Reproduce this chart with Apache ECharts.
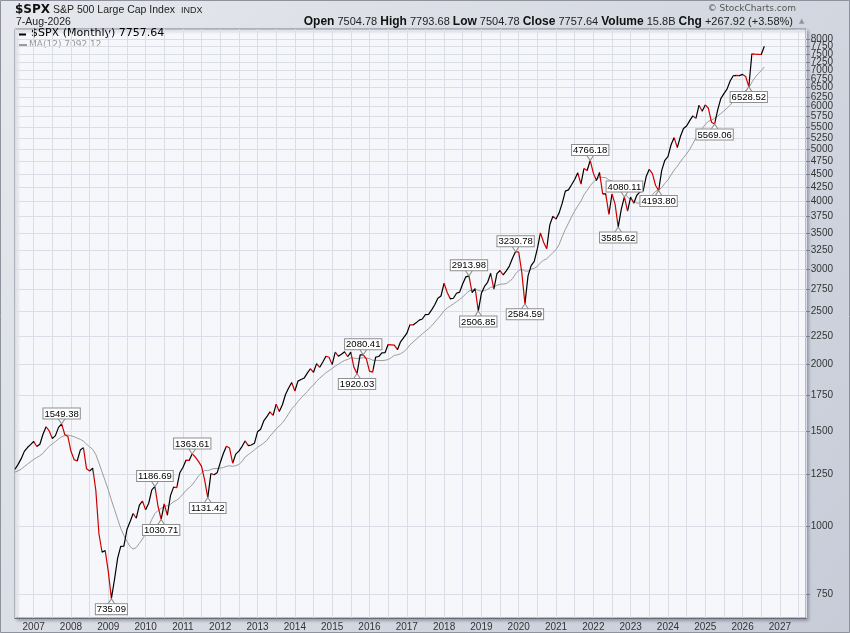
<!DOCTYPE html>
<html>
<head>
<meta charset="utf-8">
<title>$SPX Monthly</title>
<script src="https://cdn.jsdelivr.net/npm/echarts@6/dist/echarts.min.js"></script>
<style>
  html, body { margin: 0; padding: 0; }
  #main { width: 850px; height: 633px; }
</style>
</head>
<body>
<div id="main"></div>
<script>
// monthly closes of $SPX, first value is Jul 2006, last is Aug 2026
const firstMonth = [2006, 7];
const closes = [
  1276.66, 1303.82, 1335.85, 1377.94, 1400.63, 1418.30,
  1438.24, 1406.82, 1420.86, 1482.37, 1530.62, 1503.35, 1455.27, 1473.99, 1526.75, 1549.38, 1481.14, 1468.36,
  1378.55, 1330.63, 1322.70, 1385.59, 1400.38, 1280.00, 1267.38, 1282.83, 1166.36, 968.75, 896.24, 903.25,
  825.88, 735.09, 797.87, 872.81, 919.14, 919.32, 987.48, 1020.62, 1057.08, 1036.19, 1095.63, 1115.10,
  1073.87, 1104.49, 1169.43, 1186.69, 1089.41, 1030.71, 1101.60, 1049.33, 1141.20, 1183.26, 1180.55, 1257.64,
  1286.12, 1327.22, 1325.83, 1363.61, 1345.20, 1320.64, 1292.28, 1218.89, 1131.42, 1253.30, 1246.96, 1257.60,
  1312.41, 1365.68, 1408.47, 1397.91, 1310.33, 1362.16, 1379.32, 1406.58, 1440.67, 1412.16, 1416.18, 1426.19,
  1498.11, 1514.68, 1569.19, 1597.57, 1630.74, 1606.28, 1685.73, 1632.97, 1681.55, 1756.54, 1805.81, 1848.36,
  1782.59, 1859.45, 1872.34, 1883.95, 1923.57, 1960.23, 1930.67, 2003.37, 1972.29, 2018.05, 2067.56, 2058.90,
  1994.99, 2104.50, 2067.89, 2085.51, 2107.39, 2063.11, 2103.84, 1972.18, 1920.03, 2079.36, 2080.41, 2043.94,
  1940.24, 1932.23, 2059.74, 2065.30, 2096.95, 2098.86, 2173.60, 2170.95, 2168.27, 2126.15, 2198.81, 2238.83,
  2278.87, 2363.64, 2362.72, 2384.20, 2411.80, 2423.41, 2470.30, 2471.65, 2519.36, 2575.26, 2647.58, 2673.61,
  2823.81, 2713.83, 2640.87, 2648.05, 2705.27, 2718.37, 2816.29, 2901.52, 2913.98, 2711.74, 2760.17, 2506.85,
  2704.10, 2784.49, 2834.40, 2945.83, 2752.06, 2941.76, 2980.38, 2926.46, 2976.74, 3037.56, 3140.98, 3230.78,
  3225.52, 2954.22, 2584.59, 2912.43, 3044.31, 3100.29, 3271.12, 3500.31, 3363.00, 3269.96, 3621.63, 3756.07,
  3714.24, 3811.15, 3972.89, 4181.17, 4204.11, 4297.50, 4395.26, 4522.68, 4307.54, 4605.38, 4567.00, 4766.18,
  4515.55, 4373.94, 4530.41, 4131.93, 4132.15, 3785.38, 4130.29, 3955.00, 3585.62, 3871.98, 4080.11, 3839.50,
  4076.60, 3970.15, 4109.31, 4169.48, 4179.83, 4450.38, 4588.96, 4507.66, 4288.05, 4193.80, 4567.80, 4769.83,
  4845.65, 5096.27, 5254.35, 5035.69, 5277.51, 5460.48, 5522.30, 5648.40, 5762.48, 5705.45, 6032.38, 5881.63,
  6040.53, 5954.50, 5611.85, 5569.06, 5911.69, 6204.95, 6339.39, 6460.26, 6688.46, 6840.20, 6849.09, 6845.50,
  6880, 6820, 6528.52, 7510, 7500, 7495, 7489.72, 7757.64
];
// 12 month moving average, same months as closes
const ma12 = [
  1261.4, 1268.4, 1277.3, 1291.6, 1304.3, 1318.4,
  1331.6, 1342.1, 1352.6, 1366.8, 1388.6, 1408.0, 1422.8, 1437.0, 1452.9, 1467.2, 1473.8, 1478.0,
  1473.1, 1466.8, 1458.6, 1450.6, 1439.7, 1421.1, 1405.4, 1389.5, 1359.4, 1311.1, 1262.3, 1215.3,
  1169.2, 1119.5, 1075.8, 1033.0, 992.9, 962.8, 939.5, 917.7, 908.6, 914.2, 930.8, 948.5,
  969.2, 999.9, 1030.8, 1057.0, 1071.2, 1080.5, 1090.1, 1092.4, 1099.4, 1111.7, 1118.8, 1130.7,
  1148.3, 1166.9, 1180.0, 1194.8, 1216.1, 1240.3, 1256.1, 1270.3, 1269.4, 1275.3, 1280.8, 1280.8,
  1282.9, 1286.2, 1293.0, 1295.8, 1292.9, 1296.3, 1303.6, 1319.3, 1345.1, 1358.3, 1372.4, 1386.4,
  1401.9, 1414.3, 1427.8, 1444.4, 1471.2, 1491.5, 1517.1, 1535.9, 1556.0, 1584.8, 1617.3, 1652.4,
  1676.2, 1704.8, 1730.1, 1753.9, 1778.3, 1807.8, 1828.3, 1859.1, 1883.3, 1905.0, 1926.8, 1944.4,
  1962.1, 1982.6, 1998.9, 2015.8, 2031.0, 2039.6, 2054.0, 2051.4, 2047.1, 2052.2, 2053.2, 2051.9,
  2047.3, 2032.9, 2032.3, 2030.5, 2029.7, 2032.7, 2038.5, 2055.1, 2075.8, 2079.7, 2089.6, 2105.8,
  2134.1, 2170.1, 2195.3, 2221.9, 2248.2, 2275.2, 2299.8, 2324.9, 2354.2, 2391.6, 2429.0, 2465.3,
  2510.7, 2539.8, 2563.0, 2585.0, 2609.4, 2634.0, 2662.8, 2698.7, 2731.6, 2743.0, 2752.3, 2738.4,
  2728.4, 2734.3, 2750.3, 2775.2, 2779.1, 2797.8, 2811.4, 2813.4, 2818.7, 2845.8, 2877.6, 2937.9,
  2981.4, 2995.6, 2974.8, 2972.0, 2996.3, 3009.5, 3033.8, 3081.6, 3113.8, 3133.1, 3173.2, 3216.9,
  3257.6, 3329.0, 3444.7, 3550.4, 3647.1, 3746.9, 3840.6, 3925.8, 4004.6, 4115.8, 4194.6, 4278.8,
  4345.6, 4392.5, 4438.9, 4434.8, 4428.8, 4386.1, 4364.0, 4316.7, 4256.5, 4195.4, 4154.8, 4077.7,
  4041.1, 4007.4, 3972.3, 3975.4, 3979.4, 4034.8, 4073.1, 4119.2, 4177.7, 4204.5, 4245.2, 4322.7,
  4386.8, 4480.6, 4576.0, 4648.3, 4739.8, 4823.9, 4901.7, 4996.7, 5119.5, 5245.4, 5367.4, 5460.1,
  5559.7, 5631.3, 5661.1, 5705.5, 5758.3, 5820.4, 5888.5, 5956.2, 6033.3, 6127.9, 6196.0, 6276.3,
  6346.3, 6418.3, 6494.8, 6656.5, 6788.8, 6896.3, 6992.3, 7100.4
];
const yTicks = [750, 1000, 1250, 1500, 1750, 2000, 2250, 2500, 2750, 3000, 3250, 3500, 3750,
  4000, 4250, 4500, 4750, 5000, 5250, 5500, 5750, 6000, 6250, 6500, 6750, 7000, 7250, 7500, 7750, 8000];
// peak / trough labels: month, close, side of the line
const callouts = [
  ['2007-10', 1549.38, 'top'], ['2009-02', 735.09, 'bottom'],
  ['2010-04', 1186.69, 'top'], ['2010-06', 1030.71, 'bottom'],
  ['2011-04', 1363.61, 'top'], ['2011-09', 1131.42, 'bottom'],
  ['2015-11', 2080.41, 'top'], ['2015-09', 1920.03, 'bottom'],
  ['2018-09', 2913.98, 'top'], ['2018-12', 2506.85, 'bottom'],
  ['2019-12', 3230.78, 'top'], ['2020-03', 2584.59, 'bottom'],
  ['2021-12', 4766.18, 'top'], ['2022-09', 3585.62, 'bottom'],
  ['2022-11', 4080.11, 'top'], ['2023-10', 4193.80, 'bottom'],
  ['2025-04', 5569.06, 'bottom'], ['2026-03', 6528.52, 'bottom']
];
const yMin = 677, yMax = 8350;

const SANS = 'Arial, "Liberation Sans", sans-serif';
const VERD = '"DejaVu Sans", Verdana, sans-serif';
const UP = '#000000', DOWN = '#cc0000', MA_COLOR = '#9c9c9c';

const monthX = i => firstMonth[0] + (firstMonth[1] - 1 + i) / 12;
const dateX = s => { const p = s.split('-').map(Number); return p[0] + (p[1] - 1) / 12; };
const isYear = v => Math.abs(v - Math.round(v)) < 1e-6;

// black when the month closed up, red when it closed down
const pieces = [];
for (let i = 1; i < closes.length; i++) {
  const color = closes[i] < closes[i - 1] ? DOWN : UP;
  const last = pieces[pieces.length - 1];
  if (last && last.color === color) last.lt = monthX(i);
  else pieces.push({ gte: monthX(i - 1), lt: monthX(i), color: color });
}

const boxLabel = {
  show: true,
  color: '#000',
  fontFamily: SANS,
  fontSize: 9.5,
  lineHeight: 9,
  backgroundColor: '#ffffff',
  borderColor: '#8e8e8e',
  borderWidth: 1,
  padding: [1, 1, 0, 1]
};
const markData = callouts.map(c => {
  const top = c[2] === 'top';
  return {
    coord: [dateX(c[0]), Math.log10(c[1])],
    symbol: top ? 'path://M0,0 L8,0 L4,6 Z' : 'path://M4,0 L8,6 L0,6 Z',
    symbolSize: [8, 6],
    symbolOffset: [0, top ? -3 : 3],
    label: Object.assign({}, boxLabel, {
      position: top ? 'top' : 'bottom',
      distance: -1,
      formatter: c[1].toFixed(2)
    })
  };
});

// labels are split over two axes so the close-packed top ones are not dropped
const tickPos = yTicks.map(Math.log10);
const labelsA = tickPos.filter((v, i) => i % 2 === 0);
const labelsB = tickPos.filter((v, i) => i % 2 === 1);
const yLabelStyle = {
  align: 'right', margin: 27, fontSize: 10, color: '#333', fontFamily: SANS,
  showMinLabel: true, showMaxLabel: true,
  formatter: v => String(Math.round(Math.pow(10, v)))
};

const chart = echarts.init(document.getElementById('main'));
chart.setOption({
  animation: false,
  backgroundColor: {
    type: 'linear', x: 0, y: 0, x2: 1, y2: 1,
    colorStops: [{ offset: 0, color: '#e6e8ed' }, { offset: 1, color: '#c7ccd8' }]
  },
  grid: {
    left: 15, right: 44, top: 29, bottom: 15,
    containLabel: false, outerBoundsMode: 'none',
    show: true, backgroundColor: '#f6f7fb', borderColor: '#858b96', borderWidth: 1,
    shadowColor: 'rgba(40,50,70,0.35)', shadowBlur: 3, shadowOffsetX: 2, shadowOffsetY: 2
  },
  xAxis: {
    type: 'value', min: 2006.5, max: 2027.7, interval: 0.5,
    axisLine: { show: true, lineStyle: { color: '#5e636c', type: [1, 1], width: 1 } },
    axisTick: { show: false },
    splitLine: { show: true, lineStyle: { color: '#dadde5', width: 1 } },
    axisLabel: {
      margin: 4, fontSize: 10, color: '#333', fontFamily: SANS,
      showMinLabel: false, showMaxLabel: false,
      formatter: v => isYear(v) ? String(Math.round(v)) : ''
    }
  },
  yAxis: [
    {
      type: 'value', position: 'right',
      min: Math.log10(yMin), max: Math.log10(yMax),
      axisLine: { show: false },
      axisTick: { show: true, length: 4, customValues: tickPos, lineStyle: { color: '#7a7f88' } },
      splitLine: { show: true, lineStyle: { color: '#dadde5', width: 1 } },
      axisLabel: Object.assign({ customValues: labelsA }, yLabelStyle)
    },
    {
      type: 'value', position: 'right',
      min: Math.log10(yMin), max: Math.log10(yMax),
      axisLine: { show: false },
      axisTick: { show: false, customValues: labelsB },
      splitLine: { show: false },
      axisLabel: Object.assign({ customValues: labelsB }, yLabelStyle)
    }
  ],
  visualMap: {
    show: false, type: 'piecewise', seriesIndex: 1, dimension: 0,
    pieces: pieces, outOfRange: { color: UP }
  },
  series: [
    {
      name: 'MA(12)', type: 'line', showSymbol: false, silent: true,
      data: ma12.map((v, i) => [monthX(i), Math.log10(v)]),
      lineStyle: { color: MA_COLOR, width: 1 }, z: 2
    },
    {
      name: '$SPX', type: 'line', showSymbol: false, silent: true,
      data: closes.map((v, i) => [monthX(i), Math.log10(v)]),
      lineStyle: { width: 1.2 }, z: 3,
      markPoint: {
        silent: true, z: 10,
        itemStyle: { color: '#ffffff', borderColor: '#8e8e8e', borderWidth: 1 },
        data: markData
      }
    }
  ],
  graphic: [
    { type: 'rect', silent: true, shape: { x: 0.5, y: 0.5, width: 849, height: 632 },
      style: { fill: 'none', stroke: '#8d929c', lineWidth: 1 } },
    { type: 'text', left: 15, top: 4, silent: true,
      style: { text: '$SPX', font: 'bold 12px ' + VERD, fill: '#111' } },
    { type: 'text', left: 53, top: 5, silent: true,
      style: { text: 'S&P 500 Large Cap Index', font: '10.5px ' + SANS, fill: '#222' } },
    { type: 'text', left: 181, top: 6, silent: true,
      style: { text: 'INDX', font: '9px ' + SANS, fill: '#222' } },
    { type: 'text', left: 16, top: 17, silent: true,
      style: { text: '7-Aug-2026', font: '10.5px ' + SANS, fill: '#222' } },
    { type: 'text', right: 54, top: 4, silent: true,
      style: { text: '\u00a9 StockCharts.com', font: '9px ' + VERD, fill: '#555' } },
    { type: 'text', right: 57, top: 16, silent: true,
      style: {
        text: '{b|Open} {v|7504.78} {b|High} {v|7793.68} {b|Low} {v|7504.78} {b|Close} {v|7757.64} {b|Volume} {v|15.8B} {b|Chg} {v|+267.92 (+3.58%)}',
        font: '11px ' + SANS, fill: '#111',
        rich: {
          b: { font: 'bold 12px ' + SANS, fill: '#111' },
          v: { font: '11px ' + SANS, fill: '#222' }
        }
      } },
    { type: 'text', left: 799, top: 18, silent: true,
      style: { text: '\u25b2', font: '7px ' + VERD, fill: '#8f96a0' } },
    // legend inside the plot
    { type: 'line', silent: true, shape: { x1: 19, y1: 34.5, x2: 26, y2: 34.5 },
      style: { stroke: '#000', lineWidth: 2 } },
    { type: 'text', left: 31, top: 28, silent: true,
      style: { text: '$SPX (Monthly) 7757.64', font: '11px ' + VERD, fill: '#000' } },
    { type: 'line', silent: true, shape: { x1: 19, y1: 45, x2: 27, y2: 45 },
      style: { stroke: MA_COLOR, lineWidth: 2 } },
    { type: 'text', left: 29, top: 40, silent: true,
      style: { text: 'MA(12) 7092.12', font: '9px ' + VERD, fill: '#999' } }
  ]
});
</script>
</body>
</html>
